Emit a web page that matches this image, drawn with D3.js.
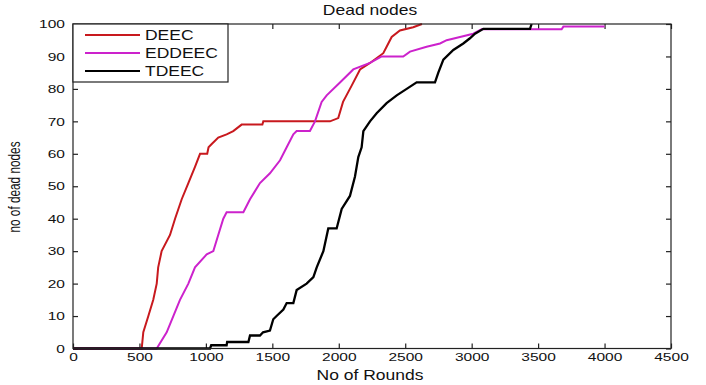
<!DOCTYPE html>
<html>
<head>
<meta charset="utf-8">
<script src="https://cdn.jsdelivr.net/npm/d3@7"></script>
<style>
  body { margin: 0; background: #fff; }
</style>
</head>
<body>
<div id="chart"></div>
<script>
// values (rounds, dead nodes)
const deecRounds = [0, 517, 529, 567, 604, 630, 641, 667, 730, 768, 818, 868, 918, 956, 1010, 1020, 1044, 1093, 1156, 1206, 1269, 1425, 1432, 1934, 1996, 2032, 2097, 2160, 2235, 2335, 2360, 2398, 2460, 2560, 2626];
const deecDead   = [0, 0, 5, 10, 15, 20, 25, 30, 35, 40, 46, 51, 56, 60, 60, 62, 63, 65, 66, 67, 69, 69, 70, 70, 71, 76, 81, 86, 88, 91, 93, 96, 98, 99, 100];

const eddeecRounds = [0, 630, 705, 755, 805, 868, 918, 1006, 1056, 1093, 1131, 1156, 1282, 1332, 1407, 1482, 1558, 1608, 1658, 1683, 1783, 1821, 1871, 1909, 2009, 2109, 2235, 2323, 2485, 2536, 2661, 2762, 2812, 2912, 3012, 3075, 3677, 3690, 4000];
const eddeecDead   = [0, 0, 5, 10, 15, 20, 25, 29, 30, 35, 40, 42, 42, 46, 51, 54, 58, 62, 66, 67, 67, 70, 76, 78, 82, 86, 88, 90, 90, 91.5, 93, 94, 95, 96, 97, 98.4, 98.4, 99.2, 99.2];

const tdeecRounds = [0, 1031, 1040, 1156, 1160, 1320, 1332, 1407, 1430, 1482, 1507, 1532, 1583, 1608, 1658, 1683, 1758, 1809, 1834, 1884, 1921, 1984, 2022, 2084, 2122, 2147, 2172, 2185, 2235, 2285, 2360, 2436, 2511, 2586, 2724, 2749, 2787, 2862, 2937, 2987, 3025, 3088, 3439, 3451];
const tdeecDead   = [0, 0, 1, 1, 2, 2, 4, 4, 5, 5.5, 9, 10, 12, 14, 14, 18, 20, 22, 25, 30, 37, 37, 43, 47, 53, 59, 62, 67, 70, 72.5, 75.6, 78, 80, 82, 82, 85, 89, 92, 94, 95.6, 97, 98.5, 98.5, 100];

const seriesNames = ["DEEC", "EDDEEC", "TDEEC"];
const seriesColors = ["#c8191e", "#cc22cc", "#000000"];
const xTicks = [0, 500, 1000, 1500, 2000, 2500, 3000, 3500, 4000, 4500];
const yTicks = [0, 10, 20, 30, 40, 50, 60, 70, 80, 90, 100];

const series = [
  deecRounds.map((r, i) => ({r: r, v: deecDead[i]})),
  eddeecRounds.map((r, i) => ({r: r, v: eddeecDead[i]})),
  tdeecRounds.map((r, i) => ({r: r, v: tdeecDead[i]}))
];

// margin convention
const margin = {top: 24, right: 35, bottom: 36.5, left: 73};
const width = 706, height = 385;
const visWidth = width - margin.left - margin.right;
const visHeight = height - margin.top - margin.bottom;

const font = "'Liberation Sans', Arial, sans-serif";

const svg = d3.select("#chart").append("svg")
    .attr("width", width)
    .attr("height", height);

const g = svg.append("g")
    .attr("transform", `translate(${margin.left}, ${margin.top})`);

const x = d3.scaleLinear().domain([0, 4500]).range([0, visWidth]);
const y = d3.scaleLinear().domain([0, 100]).range([visHeight, 0]);

// axes, ticks pointing inward (text is stretched sideways like the picture)
g.append("g")
    .attr("transform", `translate(0, ${visHeight})`)
    .call(d3.axisBottom(x).tickValues(xTicks).tickFormat(d3.format("d"))
        .tickSizeInner(-5).tickSizeOuter(0).tickPadding(4.5))
    .call(a => a.select(".domain").remove())
    .call(a => a.selectAll("text")
        .attr("font-family", font).attr("font-size", 11.5).attr("fill", "#111")
        .attr("transform", "scale(1.35,1)"));

g.append("g")
    .call(d3.axisLeft(y).tickValues(yTicks).tickFormat(d3.format("d"))
        .tickSizeInner(-5).tickSizeOuter(0))
    .call(a => a.select(".domain").remove())
    .call(a => a.selectAll("text")
        .attr("x", 0)
        .attr("font-family", font).attr("font-size", 11.5).attr("fill", "#111")
        .attr("transform", "translate(-8,0) scale(1.35,1)"));

g.append("g")
    .call(d3.axisTop(x).tickValues(xTicks).tickSizeInner(-5).tickSizeOuter(0).tickFormat(""))
    .call(a => a.select(".domain").remove());

g.append("g")
    .attr("transform", `translate(${visWidth}, 0)`)
    .call(d3.axisRight(y).tickValues(yTicks).tickSizeInner(-5).tickSizeOuter(0).tickFormat(""))
    .call(a => a.select(".domain").remove());

g.selectAll(".tick line").attr("stroke", "#222").attr("stroke-width", 1.2);

// lines
const line = d3.line()
    .x(d => x(d.r))
    .y(d => y(d.v));

g.selectAll(".series")
  .data(series)
  .join("path")
    .attr("fill", "none")
    .attr("stroke", (d, i) => seriesColors[i])
    .attr("stroke-width", (d, i) => i == 2 ? 2.3 : 2)
    .attr("d", line);

// frame
g.append("rect")
    .attr("width", visWidth)
    .attr("height", visHeight)
    .attr("fill", "none")
    .attr("stroke", "#222")
    .attr("stroke-width", 1.2);

// legend
const legend = g.append("g");
legend.append("rect")
    .attr("width", 155)
    .attr("height", 58)
    .attr("fill", "#fff")
    .attr("stroke", "#222")
    .attr("stroke-width", 1.2);

const item = legend.selectAll(".item")
  .data(seriesNames)
  .join("g")
    .attr("transform", (d, i) => `translate(0, ${11 + i * 18})`);

item.append("line")
    .attr("x1", 12).attr("x2", 67)
    .attr("stroke", (d, i) => seriesColors[i])
    .attr("stroke-width", 2);

item.append("text")
    .attr("transform", `translate(72, 0) scale(1.25,1)`)
    .attr("dy", "0.36em")
    .attr("font-family", font)
    .attr("font-size", 14)
    .attr("fill", "#111")
    .text(d => d);

// title and axis labels
svg.append("text")
    .attr("transform", `translate(370, 15) scale(1.25,1)`)
    .attr("text-anchor", "middle")
    .attr("font-family", font)
    .attr("font-size", 14)
    .attr("fill", "#111")
    .text("Dead nodes");

svg.append("text")
    .attr("transform", `translate(370, 380) scale(1.25,1)`)
    .attr("text-anchor", "middle")
    .attr("font-family", font)
    .attr("font-size", 14)
    .attr("fill", "#111")
    .text("No of Rounds");

svg.append("text")
    .attr("transform", `translate(20, 187) scale(1.36,1) rotate(-90)`)
    .attr("text-anchor", "middle")
    .attr("font-family", font)
    .attr("font-size", 11.8)
    .attr("fill", "#111")
    .text("no of dead nodes");
</script>
</body>
</html>
